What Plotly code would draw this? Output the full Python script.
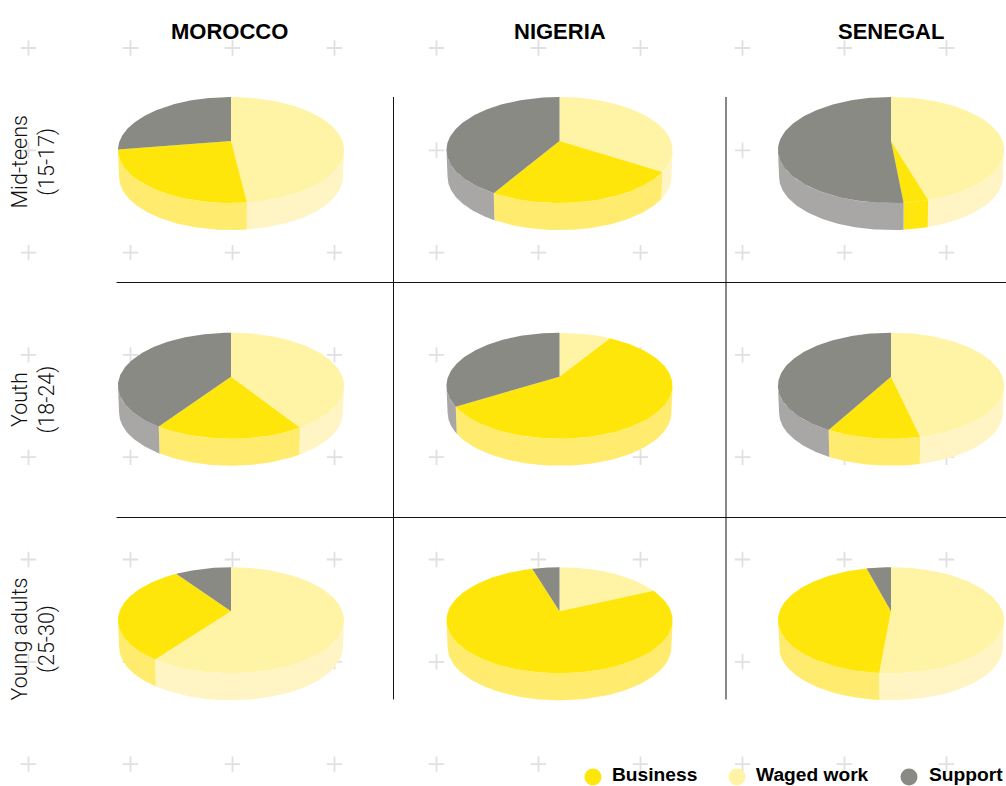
import numpy as np
import plotly.graph_objects as go

# ---- data (percent shares) ----
countries = ["MOROCCO", "NIGERIA", "SENEGAL"]
age_groups = ["Mid-teens<br>(15-17)", "Youth<br>(18-24)", "Young adults<br>(25-30)"]
series_names = ["Waged work", "Business", "Support"]
waged_work = [[48.1, 34.2, 45.5], [41.1, 8.7, 46.5], [60.0, 18.0, 51.4]]
business = [[24.3, 24.2, 3.0], [18.3, 57.4, 11.4], [30.5, 77.4, 44.5]]
support = [[27.6, 41.6, 51.5], [40.6, 33.9, 42.1], [9.5, 4.6, 4.1]]

# ---- styles / layout ----
W, H = 1006, 786
TOP = {"Waged work": "#FFF3A6", "Business": "#FFE60A", "Support": "#8A8A84"}
SIDE = {"Waged work": "#FFF5C4", "Business": "#FFEC6E", "Support": "#A8A7A5"}
SIDE_OVERRIDE = {(0, 2, "Business"): "#FFE60D"}
COL_X = [231, 559.5, 891]
ROW_APEX = [141, 376.7, 611.2]
HEADER_X = [229.5, 560, 890.5]
LABEL_Y = [162, 400, 639]
RX, RY, PERSP, DEPTH, BASE_SCALE = 111.4, 51.5, 0.17, 27, 0.99
GUTTER = np.degrees(np.arctan2(np.sqrt(1 - PERSP**2), -PERSP))  # right silhouette angle


def project(theta, cx, ay, dy=0.0, scale=1.0):
    u, v = np.sin(theta), np.cos(theta)
    f = 1 + PERSP * v
    return cx + scale * RX * u / f, ay - RY * v / f + dy


fig = go.Figure()

# background crosses
cross_x = [28.5 + 102 * i for i in range(10)]
cross_y = [48 + 102.3 * j for j in range(8)]
xs, ys = np.meshgrid(cross_x, cross_y)
fig.add_trace(go.Scatter(x=xs.ravel(), y=ys.ravel(), mode="markers", hoverinfo="skip",
                         marker=dict(symbol="cross-thin", size=11, color="#E0E0E0",
                                     line=dict(color="#E0E0E0", width=1.8))))

values = {"Waged work": waged_work, "Business": business, "Support": support}
for r, ay in enumerate(ROW_APEX):
    for c, cx in enumerate(COL_X):
        start = 0.0
        total = sum(values[n][r][c] for n in series_names)
        for name in series_names:
            share = values[name][r][c]
            a0, a1 = start, start + 360 * share / total
            start = a1
            # front wall
            lo, hi = max(a0, GUTTER), min(a1, 360 - GUTTER)
            if hi > lo:
                th = np.radians(np.linspace(lo, hi, 90))
                x1, y1 = project(th, cx, ay)
                x2, y2 = project(th[::-1], cx, ay, DEPTH, BASE_SCALE)
                fig.add_trace(go.Scatter(
                    x=np.r_[x1, x2, x1[0]], y=np.r_[y1, y2, y1[0]], mode="lines", fill="toself",
                    fillcolor=SIDE_OVERRIDE.get((r, c, name), SIDE[name]),
                    line=dict(width=0), hoverinfo="skip"))
        start = 0.0
        for name in series_names:
            share = values[name][r][c]
            a0, a1 = start, start + 360 * share / total
            start = a1
            th = np.radians(np.linspace(a0, a1, 120))
            x, y = project(th, cx, ay)
            fig.add_trace(go.Scatter(
                x=np.r_[cx, x, cx], y=np.r_[ay, y, ay], mode="lines", fill="toself",
                fillcolor=TOP[name], line=dict(width=0), name=name,
                hovertemplate=f"{countries[c]} {name}: {share}%<extra></extra>"))

# grid rules
shapes = []
for x in [393.5, 726]:
    shapes.append(dict(type="line", xref="x", yref="y", x0=x, x1=x, y0=97, y1=699.5,
                       line=dict(color="#111111", width=1)))
for y in [282.5, 517.5]:
    shapes.append(dict(type="line", xref="x", yref="y", x0=116.5, x1=W, y0=y, y1=y,
                       line=dict(color="#111111", width=1)))

# legend
legend_order = ["Business", "Waged work", "Support"]
legend_dot_x = [593, 737, 909]
legend_text_x = [611.5, 755.5, 928.5]
LEGEND_Y = 777
LEGEND_TEXT_Y = 774.5
fig.add_trace(go.Scatter(x=legend_dot_x, y=[LEGEND_Y] * 3, mode="markers", hoverinfo="skip",
                         marker=dict(size=17, color=[TOP[n] for n in legend_order])))

ann = []
for x, name in zip(HEADER_X, countries):
    ann.append(dict(x=x, y=31, text=f"<b>{name}</b>", showarrow=False, xanchor="center", yanchor="middle",
                    font=dict(family="Liberation Sans", size=22, color="#000000")))
for y, name in zip(LABEL_Y, age_groups):
    ann.append(dict(x=33.5, y=y, text=name, showarrow=False, textangle=-90, xanchor="center", yanchor="middle",
                    font=dict(family="Roboto", size=21.5, weight=300, color="#111111")))
for x, name in zip(legend_text_x, legend_order):
    ann.append(dict(x=x, y=LEGEND_TEXT_Y, text=f"<b>{name}</b>", showarrow=False, xanchor="left", yanchor="middle",
                    xshift=-2, font=dict(family="Liberation Sans", size=19.2, color="#000000")))

fig.update_layout(
    width=W, height=H, margin=dict(l=0, r=0, t=0, b=0), showlegend=False,
    paper_bgcolor="#FFFFFF", plot_bgcolor="#FFFFFF", shapes=shapes, annotations=ann,
    xaxis=dict(range=[0, W], visible=False, fixedrange=True),
    yaxis=dict(range=[H, 0], visible=False, fixedrange=True),
)
fig.write_html("out.html", config={"displayModeBar": False},
               post_script="document.body.style.margin='0';")
